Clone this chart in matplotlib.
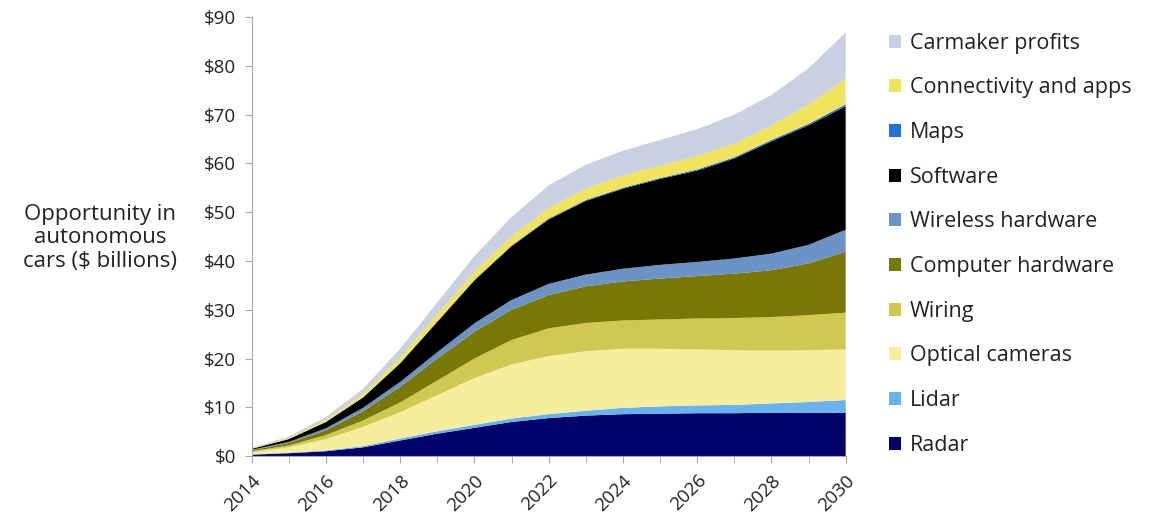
import matplotlib.pyplot as plt
import numpy as np

plt.rcParams['font.family'] = ['Open Sans', 'DejaVu Sans']

years = list(range(2014, 2031))

# layer sizes, $ billions
radar = [0.3, 0.6, 1.0, 1.8, 3.2, 4.6, 5.8, 7.0, 7.8, 8.3, 8.6, 8.7, 8.8, 8.8, 8.9, 8.9, 8.9]
lidar = [0.05, 0.1, 0.15, 0.25, 0.4, 0.5, 0.6, 0.7, 0.8, 1.0, 1.3, 1.5, 1.6, 1.7, 1.9, 2.2, 2.6]
optical = [0.45, 1.1, 2.35, 3.95, 5.4, 7.4, 9.6, 11.1, 11.9, 12.2, 12.1, 11.8, 11.5, 11.2, 10.8, 10.6, 10.4]
wiring = [0.2, 0.4, 0.8, 1.3, 2.0, 3.0, 4.0, 5.0, 5.7, 5.8, 5.8, 6.0, 6.3, 6.6, 6.9, 7.2, 7.5]
computer = [0.2, 0.5, 1.0, 1.9, 3.2, 4.5, 5.5, 6.2, 6.8, 7.5, 8.0, 8.4, 8.7, 9.1, 9.6, 10.6, 12.5]
wireless = [0.1, 0.2, 0.4, 0.7, 1.0, 1.3, 1.7, 2.0, 2.3, 2.4, 2.6, 2.8, 2.9, 3.1, 3.4, 3.8, 4.5]
software = [0.2, 0.6, 1.3, 2.1, 3.8, 6.2, 8.8, 11.0, 13.2, 15.1, 16.4, 17.6, 18.7, 20.5, 23.0, 24.5, 25.3]
maps = [0.0, 0.0, 0.0, 0.05, 0.1, 0.1, 0.15, 0.2, 0.2, 0.2, 0.2, 0.2, 0.25, 0.25, 0.3, 0.3, 0.4]
connectivity = [0.1, 0.2, 0.4, 0.65, 1.1, 1.4, 1.65, 1.8, 2.1, 2.3, 2.5, 2.5, 2.75, 2.75, 3.0, 3.9, 5.2]
carmaker = [0.1, 0.3, 0.6, 1.1, 1.8, 2.5, 3.2, 4.0, 4.7, 4.9, 5.1, 5.3, 5.5, 6.0, 6.2, 7.5, 9.5]

labels = ['Radar', 'Lidar', 'Optical cameras', 'Wiring', 'Computer hardware',
          'Wireless hardware', 'Software', 'Maps', 'Connectivity and apps', 'Carmaker profits']
colors = ['#02026b', '#68b3ee', '#f6ee9c', '#cfc851', '#7a7805',
          '#6b93c6', '#000000', '#1c74d6', '#f1e35c', '#c8d0e2']

fig = plt.figure(figsize=(11.49, 5.31), dpi=100)
ax = fig.add_axes([0.219, 0.141, 0.517, 0.827])

polys = ax.stackplot(years, radar, lidar, optical, wiring, computer, wireless,
                     software, maps, connectivity, carmaker,
                     colors=colors, labels=labels, linewidth=0)

ax.set_xlim(2014, 2030)
ax.set_ylim(0, 90)
ax.set_yticks(range(0, 91, 10))
ax.set_yticklabels([r'\$%d' % v for v in range(0, 91, 10)])
ax.set_xticks(range(2014, 2031, 2))
ax.set_xticks(years, minor=True)
ax.set_xticklabels([str(y) for y in range(2014, 2031, 2)], rotation=45, ha='right',
                   rotation_mode='anchor')

for s in ['top', 'right']:
    ax.spines[s].set_visible(False)
for s in ['left', 'bottom']:
    ax.spines[s].set_color('#a6a6a6')
ax.tick_params(axis='both', which='both', color='#a6a6a6', length=5, labelsize=13.5,
               labelcolor='#222222')
ax.tick_params(axis='y', pad=6)
ax.tick_params(axis='x', pad=6)

fig.text(0.087, 0.552, 'Opportunity in\nautonomous\ncars (\\$ billions)', ha='center',
         va='center', fontsize=16, color='#222222', linespacing=1.17)

handles, labs = ax.get_legend_handles_labels()
fig.legend(handles[::-1], labs[::-1], loc='upper left', bbox_to_anchor=(0.757, 0.975),
           frameon=False, fontsize=15.5, handlelength=0.55, handleheight=0.55,
           handletextpad=0.4, labelspacing=1.1, labelcolor='#222222')

plt.savefig('out.png', dpi=100)
